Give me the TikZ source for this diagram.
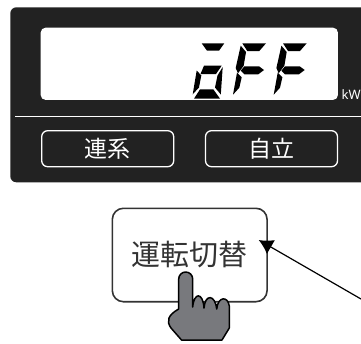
\documentclass[tikz,border=0pt]{standalone}
\usepackage{fontspec}
\newfontfamily\cjk{Noto Sans CJK JP}
\setsansfont{Noto Sans}
\usetikzlibrary{arrows.meta}
\usetikzlibrary{calc}
\definecolor{panel-color}{RGB}{34,34,34}
\definecolor{hand-color}{RGB}{120,121,125}
\definecolor{label-color}{RGB}{51,51,51}

\begin{document}
\begin{tikzpicture}[x=1pt, y=-1pt, >={Latex[length=14pt,width=16pt]},
seg/.style={fill=black},
panelbtn/.style={draw=white,line width=1.3pt,rounded corners=6pt,minimum width=132pt,minimum height=36pt,inner sep=0pt,text=white,font=\cjk\fontsize{23}{23}\selectfont}]
\useasboundingbox (0,0) rectangle (361,343);

% panel
\fill[panel-color,rounded corners=6pt] (10.3,7.3) rectangle (390,182.3);
\node[fill=white,rounded corners=5pt,minimum width=297.3pt,minimum height=72.3pt,inner sep=0pt] (display) at (189.3,63.8) {};
\node[anchor=base west,text=white,inner sep=0pt,font=\sffamily\fontsize{13}{13}\selectfont] (unit) at (341.5,99) {kW};
\draw[white,line width=1pt] (15.3,116.3) -- (390,116.3);

% buttons
\node[panelbtn] (btnlink) at (107.7,148.7) {連系};
\node[panelbtn] (btnself) at (271.5,148.7) {自立};

%%%%%%%%%%%%%%%%%%%%%%%% segments
% small o
\fill[seg] (201.7,43.3) -- (224.3,43.3) -- (219,50.7) -- (207,50.7) -- cycle;
\fill[seg] (204,65.7) -- (221.7,65.7) -- (216,74) -- (200.5,74) -- cycle;
\fill[seg] (196.7,70.5) -- (201.3,75.5) -- (199,87.5) -- (192.7,94.3) -- cycle;
\fill[seg] (222.7,67) -- (220.8,94.5) -- (215,87.5) -- (217.5,75.5) -- cycle;
\fill[seg] (200,89.3) -- (213.3,89.3) -- (220,98.7) -- (194,98.7) -- cycle;
\foreach \dx in {0,40.7}{
% F
\fill[seg] (242.3+\dx,43.3) -- (266+\dx,43.3) -- (259.3+\dx,51) -- (247.3+\dx,51) -- cycle;
\fill[seg] (240.7+\dx,45.7) -- (246+\dx,52) -- (243.7+\dx,65.7) -- (238+\dx,73.3) -- (235.7+\dx,68) -- cycle;
\fill[seg] (244.3+\dx,66.3) -- (259+\dx,66.3) -- (264+\dx,70) -- (258.3+\dx,74.3) -- (244.3+\dx,74.3) -- (240.7+\dx,70.7) -- cycle;
\fill[seg] (237+\dx,72.7) -- (241.7+\dx,77.3) -- (239.3+\dx,87.7) -- (233+\dx,94.7) -- cycle;
}

% switch button
\node[draw=label-color,line width=1.6pt,rounded corners=11pt,minimum width=154.7pt,minimum height=93.4pt,inner sep=0pt,text=label-color,font=\cjk\fontsize{29}{29}\selectfont] (modebtn) at (189.7,255) {運転切替};

% arrow
\coordinate (arrowtip) at (258.7,240);
\coordinate (arrowend) at (361,299);
\draw[->,line width=1.2pt] (arrowend) -- (arrowtip);

% hand
\draw[fill=hand-color,line width=1.5pt,line join=round]
  (178.7,279) arc[start angle=180,end angle=360,radius=7] -- (192.7,307)
  .. controls (194,292) and (203,292) .. (204,308)
  .. controls (205,294) and (215,294) .. (216.7,309)
  .. controls (218,296) and (228,296) .. (229.3,306)
  -- (229.3,328) -- (222,340) -- (181.5,340) -- (171,328)
  .. controls (166,321) and (168,315) .. (178.7,309) -- cycle;
\draw[line width=1.5pt] (192.7,295) -- (192.7,307);

\end{tikzpicture}
\end{document}
